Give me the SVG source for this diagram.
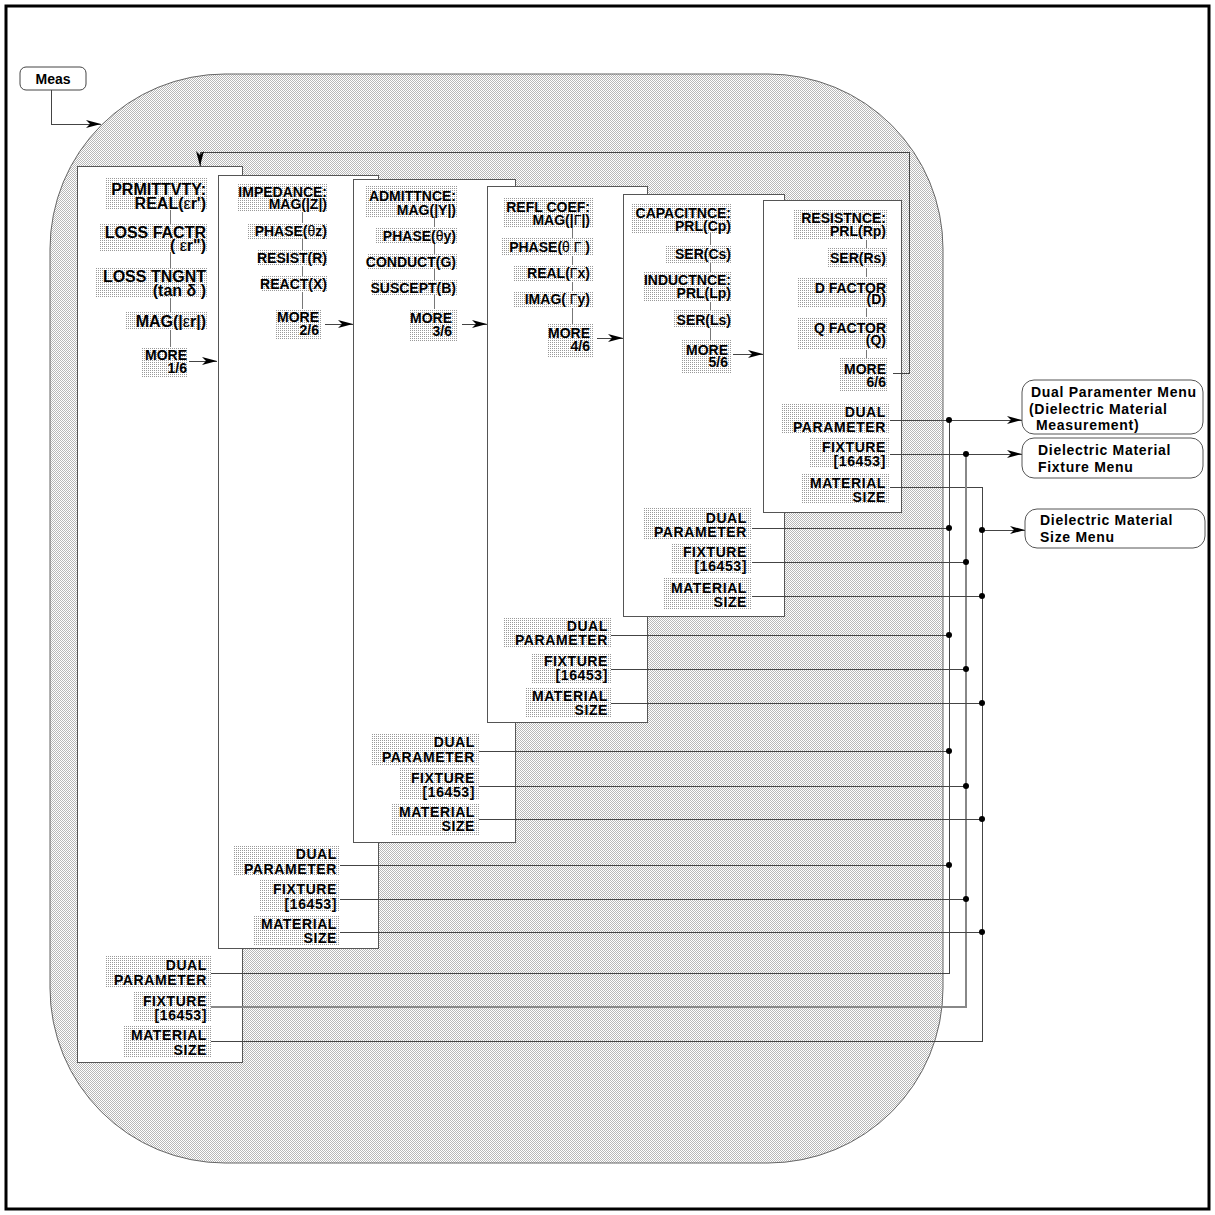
<svg xmlns="http://www.w3.org/2000/svg" width="1215" height="1215" viewBox="0 0 1215 1215">
<style>
.pnl{fill:#fff;stroke:#555;stroke-width:1;shape-rendering:crispEdges}
.bg{fill:url(#lt);shape-rendering:crispEdges}
.t{font-family:"Liberation Sans",Arial,sans-serif;font-weight:bold;font-size:14px;text-anchor:end;fill:#000}
.t16{font-size:16px}
.b{letter-spacing:0.6px}
.gk{font-weight:normal}
.vl{stroke:#777;stroke-width:1;shape-rendering:crispEdges;fill:none}
.cn{stroke:#444;stroke-width:1;fill:none;shape-rendering:crispEdges}
.cg{stroke:#888;stroke-width:1.5;fill:none;shape-rendering:crispEdges}
.dot{fill:#000}
.menu{fill:#fff;stroke:#555;stroke-width:1}
.mt{font-family:"Liberation Sans",Arial,sans-serif;font-weight:bold;font-size:14px;letter-spacing:0.7px;fill:#000}
</style>
<defs>
<pattern id="dk" patternUnits="userSpaceOnUse" width="2" height="2">
<rect width="2" height="2" fill="#fff"/>
<rect x="0" y="0" width="1" height="1" fill="#b8b8b8"/>
<rect x="1" y="1" width="1" height="1" fill="#b8b8b8"/>
</pattern>
<pattern id="lt" patternUnits="userSpaceOnUse" width="2" height="2">
<rect width="2" height="2" fill="#fff"/>
<rect x="0" y="0" width="1" height="1" fill="#999"/>
</pattern>
<marker id="ah" markerUnits="userSpaceOnUse" markerWidth="15" markerHeight="9" viewBox="0 0 15 9" refX="15" refY="4.5" orient="auto">
<path d="M0,0.5 L15,4.5 L0,8.5 L4,4.5 Z" fill="#000"/>
</marker>
</defs>

<rect x="6" y="6" width="1203" height="1203" fill="#fff" stroke="#000" stroke-width="3"/>
<path id="region" d="M225,74 H768 A175,175 0 0 1 943,249 V988 A175,175 0 0 1 768,1163 H225 A175,175 0 0 1 50,988 V249 A175,175 0 0 1 225,74 Z" fill="url(#dk)" stroke="#666" stroke-width="1"/>

<g id="meas">
<rect x="20" y="67" width="66" height="23" rx="6" fill="#fff" stroke="#444"/>
<text x="53" y="84" class="t" style="text-anchor:middle">Meas</text>
</g>

<g id="panel1">
<rect class="pnl" x="77" y="166" width="165" height="896"/>
<line class="vl" x1="170" y1="210" x2="170" y2="347"/>
<rect class="bg" x="105" y="177" width="103" height="33"/>
<rect class="bg" x="99" y="224" width="109" height="28"/>
<rect class="bg" x="95" y="268" width="113" height="30"/>
<rect class="bg" x="125" y="312" width="83" height="18"/>
<rect class="bg" x="142" y="347" width="46" height="31"/>
<text class="t t16" x="206" y="195">PRMITTVTY:<tspan x="206" dy="14">REAL(<tspan class="gk">ε</tspan>r')</tspan></text>
<text class="t t16" x="206" y="238">LOSS FACTR<tspan x="206" dy="13">( <tspan class="gk">ε</tspan>r")</tspan></text>
<text class="t t16" x="206" y="282">LOSS TNGNT<tspan x="206" dy="14">(tan δ )</tspan></text>
<text class="t t16" x="206" y="327">MAG(|<tspan class="gk">ε</tspan>r|)</text>
<text class="t" x="187" y="360">MORE<tspan x="187" dy="13">1/6</tspan></text>
<rect class="bg" x="105" y="955" width="106" height="32"/>
<rect class="bg" x="133" y="992" width="78" height="30"/>
<rect class="bg" x="123" y="1026" width="88" height="31"/>
<text class="t b" x="207" y="970">DUAL<tspan x="207" dy="15">PARAMETER</tspan></text>
<text class="t b" x="207" y="1006">FIXTURE<tspan x="207" dy="14">[16453]</tspan></text>
<text class="t b" x="207" y="1040">MATERIAL<tspan x="207" dy="15">SIZE</tspan></text>
</g>

<g id="panel2">
<rect class="pnl" x="218" y="175" width="160" height="773"/>
<line class="vl" x1="302" y1="209" x2="302" y2="309"/>
<rect class="bg" x="237" y="183" width="91" height="29"/>
<rect class="bg" x="247" y="223" width="81" height="16"/>
<rect class="bg" x="257" y="250" width="71" height="16"/>
<rect class="bg" x="262" y="276" width="66" height="16"/>
<rect class="bg" x="275" y="309" width="47" height="31"/>
<text class="t" x="327" y="197">IMPEDANCE:<tspan x="327" dy="12">MAG(|Z|)</tspan></text>
<text class="t" x="327" y="236">PHASE(<tspan class="gk">θ</tspan>z)</text>
<text class="t" x="327" y="263">RESIST(R)</text>
<text class="t" x="327" y="289">REACT(X)</text>
<text class="t" x="319" y="322">MORE<tspan x="319" dy="13">2/6</tspan></text>
<rect class="bg" x="233" y="846" width="107" height="30"/>
<rect class="bg" x="260" y="879" width="80" height="33"/>
<rect class="bg" x="253" y="915" width="87" height="31"/>
<text class="t b" x="337" y="859">DUAL<tspan x="337" dy="15">PARAMETER</tspan></text>
<text class="t b" x="337" y="894">FIXTURE<tspan x="337" dy="15">[16453]</tspan></text>
<text class="t b" x="337" y="929">MATERIAL<tspan x="337" dy="14">SIZE</tspan></text>
</g>

<g id="panel3">
<rect class="pnl" x="353" y="179" width="162" height="663"/>
<line class="vl" x1="434" y1="215" x2="434" y2="309"/>
<rect class="bg" x="365" y="185" width="93" height="32"/>
<rect class="bg" x="375" y="227" width="83" height="16"/>
<rect class="bg" x="367" y="254" width="91" height="15"/>
<rect class="bg" x="371" y="280" width="87" height="15"/>
<rect class="bg" x="410" y="309" width="48" height="33"/>
<text class="t" x="456" y="201">ADMITTNCE:<tspan x="456" dy="14">MAG(|Y|)</tspan></text>
<text class="t" x="456" y="241">PHASE(<tspan class="gk">θ</tspan>y)</text>
<text class="t" x="456" y="267">CONDUCT(G)</text>
<text class="t" x="456" y="293">SUSCEPT(B)</text>
<text class="t" x="452" y="323">MORE<tspan x="452" dy="13">3/6</tspan></text>
<rect class="bg" x="372" y="734" width="107" height="31"/>
<rect class="bg" x="399" y="768" width="80" height="32"/>
<rect class="bg" x="392" y="803" width="87" height="32"/>
<text class="t b" x="475" y="747">DUAL<tspan x="475" dy="15">PARAMETER</tspan></text>
<text class="t b" x="475" y="783">FIXTURE<tspan x="475" dy="14">[16453]</tspan></text>
<text class="t b" x="475" y="817">MATERIAL<tspan x="475" dy="14">SIZE</tspan></text>
</g>

<g id="panel4">
<rect class="pnl" x="487" y="186" width="160" height="536"/>
<line class="vl" x1="572" y1="228" x2="572" y2="324"/>
<rect class="bg" x="503" y="198" width="90" height="30"/>
<rect class="bg" x="502" y="238" width="91" height="18"/>
<rect class="bg" x="513" y="265" width="80" height="17"/>
<rect class="bg" x="513" y="291" width="80" height="17"/>
<rect class="bg" x="547" y="324" width="46" height="33"/>
<text class="t" x="590" y="212">REFL COEF:<tspan x="590" dy="13">MAG(|<tspan class="gk">Γ</tspan>|)</tspan></text>
<text class="t" x="590" y="252">PHASE(<tspan class="gk">θ Γ</tspan> )</text>
<text class="t" x="590" y="278">REAL(<tspan class="gk">Γ</tspan>x)</text>
<text class="t" x="590" y="304">IMAG( <tspan class="gk">Γ</tspan>y)</text>
<text class="t" x="590" y="338">MORE<tspan x="590" dy="13">4/6</tspan></text>
<rect class="bg" x="504" y="617" width="107" height="30"/>
<rect class="bg" x="532" y="653" width="79" height="30"/>
<rect class="bg" x="525" y="687" width="86" height="30"/>
<text class="t b" x="608" y="631">DUAL<tspan x="608" dy="14">PARAMETER</tspan></text>
<text class="t b" x="608" y="666">FIXTURE<tspan x="608" dy="14">[16453]</tspan></text>
<text class="t b" x="608" y="701">MATERIAL<tspan x="608" dy="14">SIZE</tspan></text>
</g>

<g id="panel5">
<rect class="pnl" x="623" y="194" width="161" height="422"/>
<line class="vl" x1="710" y1="233" x2="710" y2="340"/>
<rect class="bg" x="632" y="203" width="100" height="30"/>
<rect class="bg" x="665" y="245" width="67" height="18"/>
<rect class="bg" x="643" y="272" width="89" height="30"/>
<rect class="bg" x="673" y="310" width="59" height="18"/>
<rect class="bg" x="682" y="340" width="50" height="33"/>
<text class="t" x="731" y="218">CAPACITNCE:<tspan x="731" dy="13">PRL(Cp)</tspan></text>
<text class="t" x="731" y="259">SER(Cs)</text>
<text class="t" x="731" y="285">INDUCTNCE:<tspan x="731" dy="13">PRL(Lp)</tspan></text>
<text class="t" x="731" y="325">SER(Ls)</text>
<text class="t" x="728" y="355">MORE<tspan x="728" dy="12">5/6</tspan></text>
<rect class="bg" x="643" y="508" width="109" height="32"/>
<rect class="bg" x="672" y="543" width="80" height="31"/>
<rect class="bg" x="663" y="577" width="89" height="32"/>
<text class="t b" x="747" y="523">DUAL<tspan x="747" dy="14">PARAMETER</tspan></text>
<text class="t b" x="747" y="557">FIXTURE<tspan x="747" dy="14">[16453]</tspan></text>
<text class="t b" x="747" y="593">MATERIAL<tspan x="747" dy="14">SIZE</tspan></text>
</g>

<g id="panel6">
<rect class="pnl" x="763" y="200" width="138" height="312"/>
<line class="vl" x1="866" y1="240" x2="866" y2="358"/>
<rect class="bg" x="793" y="210" width="95" height="30"/>
<rect class="bg" x="827" y="248" width="61" height="20"/>
<rect class="bg" x="797" y="277" width="91" height="31"/>
<rect class="bg" x="797" y="317" width="91" height="33"/>
<rect class="bg" x="839" y="358" width="49" height="34"/>
<text class="t" x="886" y="223">RESISTNCE:<tspan x="886" dy="13">PRL(Rp)</tspan></text>
<text class="t" x="886" y="263">SER(Rs)</text>
<text class="t" x="886" y="293">D FACTOR<tspan x="886" dy="11">(D)</tspan></text>
<text class="t" x="886" y="333">Q FACTOR<tspan x="886" dy="12">(Q)</tspan></text>
<text class="t" x="886" y="374">MORE<tspan x="886" dy="13">6/6</tspan></text>
<rect class="bg" x="782" y="403" width="107" height="30"/>
<rect class="bg" x="810" y="438" width="79" height="30"/>
<rect class="bg" x="802" y="473" width="87" height="30"/>
<text class="t b" x="886" y="417">DUAL<tspan x="886" dy="15">PARAMETER</tspan></text>
<text class="t b" x="886" y="452">FIXTURE<tspan x="886" dy="14">[16453]</tspan></text>
<text class="t b" x="886" y="488">MATERIAL<tspan x="886" dy="14">SIZE</tspan></text>
</g>

<g id="menu-dual">
<rect class="menu" x="1022" y="380" width="181" height="54" rx="12"/>
<text class="mt" x="1031" y="397">Dual Paramenter Menu<tspan x="1029" dy="17">(Dielectric Material</tspan><tspan x="1036" dy="16">Measurement)</tspan></text>
</g>
<g id="menu-fixture">
<rect class="menu" x="1022" y="438" width="181" height="40" rx="12"/>
<text class="mt" x="1038" y="455">Dielectric Material<tspan x="1038" dy="17">Fixture Menu</tspan></text>
</g>
<g id="menu-size">
<rect class="menu" x="1025" y="509" width="180" height="39" rx="12"/>
<text class="mt" x="1040" y="525">Dielectric Material<tspan x="1040" dy="17">Size Menu</tspan></text>
</g>

<g id="connectors">
<polyline class="cn" points="51,90 51,124 101,124" marker-end="url(#ah)"/>
<line class="cn" x1="189" y1="361" x2="217" y2="361" marker-end="url(#ah)"/>
<line class="cn" x1="325" y1="324" x2="353" y2="324" marker-end="url(#ah)"/>
<line class="cn" x1="462" y1="324" x2="487" y2="324" marker-end="url(#ah)"/>
<line class="cn" x1="597" y1="338" x2="623" y2="338" marker-end="url(#ah)"/>
<line class="cn" x1="733" y1="354" x2="763" y2="354" marker-end="url(#ah)"/>
<polyline class="cn" points="893,373 909,373 909,152 200,152 200,166" marker-end="url(#ah)"/>

<line class="cn" x1="890" y1="420" x2="1022" y2="420" marker-end="url(#ah)"/>
<line class="cn" x1="890" y1="454" x2="1022" y2="454" marker-end="url(#ah)"/>
<polyline class="cn" points="890,487 982,487 982,1041 211,1041"/>
<line class="cn" x1="982" y1="530" x2="1025" y2="530" marker-end="url(#ah)"/>
<polyline class="cn" points="949,420 949,973 211,973"/>
<polyline class="cg" points="966,454 966,1007 211,1007"/>

<line class="cn" x1="752" y1="528" x2="949" y2="528"/>
<line class="cn" x1="752" y1="562" x2="966" y2="562"/>
<line class="cn" x1="752" y1="596" x2="982" y2="596"/>
<line class="cn" x1="611" y1="635" x2="949" y2="635"/>
<line class="cn" x1="611" y1="669" x2="966" y2="669"/>
<line class="cn" x1="611" y1="703" x2="982" y2="703"/>
<line class="cn" x1="479" y1="751" x2="949" y2="751"/>
<line class="cn" x1="479" y1="786" x2="966" y2="786"/>
<line class="cn" x1="479" y1="819" x2="982" y2="819"/>
<line class="cn" x1="340" y1="865" x2="949" y2="865"/>
<line class="cn" x1="340" y1="899" x2="966" y2="899"/>
<line class="cn" x1="340" y1="932" x2="982" y2="932"/>

<circle class="dot" cx="949" cy="420" r="3"/>
<circle class="dot" cx="966" cy="454" r="3"/>
<circle class="dot" cx="982" cy="530" r="3"/>
<circle class="dot" cx="949" cy="528" r="3"/>
<circle class="dot" cx="966" cy="562" r="3"/>
<circle class="dot" cx="982" cy="596" r="3"/>
<circle class="dot" cx="949" cy="635" r="3"/>
<circle class="dot" cx="966" cy="669" r="3"/>
<circle class="dot" cx="982" cy="703" r="3"/>
<circle class="dot" cx="949" cy="751" r="3"/>
<circle class="dot" cx="966" cy="786" r="3"/>
<circle class="dot" cx="982" cy="819" r="3"/>
<circle class="dot" cx="949" cy="865" r="3"/>
<circle class="dot" cx="966" cy="899" r="3"/>
<circle class="dot" cx="982" cy="932" r="3"/>
</g>
</svg>
